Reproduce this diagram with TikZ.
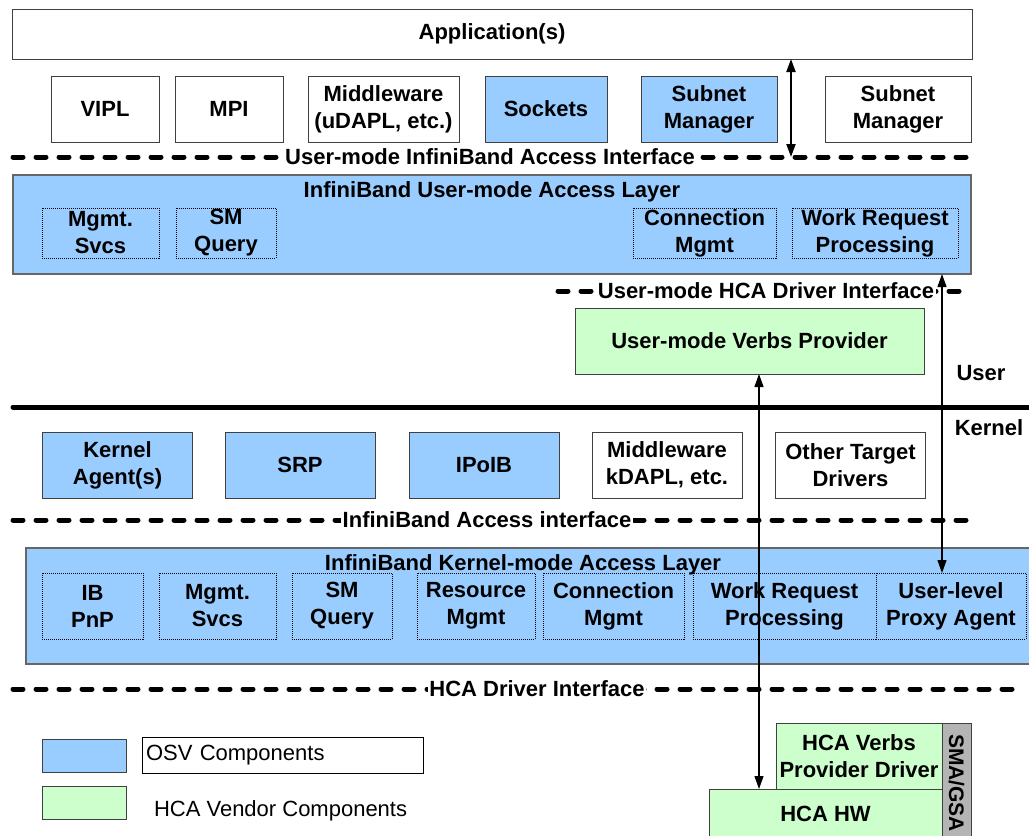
\documentclass[tikz,border=0pt]{standalone}
\usepackage{fontspec}
\setmainfont{Liberation Sans}
\usetikzlibrary{arrows.meta}
\definecolor{osvblue}{HTML}{99CCFF}
\definecolor{vendgreen}{HTML}{CCFFCC}
\definecolor{smagray}{HTML}{B4B4B4}
\definecolor{edgegray}{HTML}{404040}
\begin{document}
\begin{tikzpicture}[x=1pt,y=-1pt,
  txt/.style={font=\fontsize{22}{27}\selectfont\bfseries, align=center, inner sep=0pt, outer sep=0pt},
  blk/.style={txt, draw=edgegray, line width=1pt},
  osv/.style={blk, fill=osvblue},
  ven/.style={blk, fill=vendgreen},
  plainbox/.style={blk, fill=white},
  layer/.style={draw=edgegray!80, line width=1.2pt, fill=osvblue, inner sep=0pt, outer sep=0pt},
  sub/.style={txt, draw=black, line width=0.8pt, dash pattern=on 1pt off 1pt},
  iface/.style={line width=5pt, dash pattern=on 10pt off 13pt, line cap=round},
  ifacelbl/.style={txt, fill=white, inner xsep=1.5pt, inner ysep=1pt},
  link/.style={line width=1.2pt, {Triangle[length=13pt,width=9pt]}-{Triangle[length=13pt,width=9pt]}},
  keytxt/.style={font=\fontsize{22}{27}\selectfont, inner sep=0pt, outer sep=0pt},
]
\useasboundingbox (0,0) rectangle (1029,836);
\clip (0,0) rectangle (1029,836);

% ---------- user mode ----------
\node[plainbox, minimum width=960pt, minimum height=50pt] (app) at (492,34) {Application(s)};

\node[plainbox, minimum width=108pt, minimum height=66pt] (vipl) at (105,109) {VIPL};
\node[plainbox, minimum width=108pt, minimum height=66pt] (mpi) at (229,109) {MPI};
\node[plainbox, minimum width=151pt, minimum height=66pt] (umw) at (383.5,109) {Middleware\\(uDAPL, etc.)};
\node[osv, minimum width=122pt, minimum height=66pt] (sock) at (546,109) {Sockets};
\node[osv, minimum width=136pt, minimum height=66pt] (smosv) at (709,109) {Subnet\\Manager};
\node[plainbox, minimum width=146pt, minimum height=66pt] (smext) at (898,109) {Subnet\\Manager};

\coordinate (uiaiL) at (13,157);
\coordinate (uiaiR) at (971,157);
\draw[iface] (uiaiL) -- (uiaiR);
\node[ifacelbl] (uiai) at (490,157) {User-mode InfiniBand Access Interface};

\node[layer, minimum width=958pt, minimum height=99pt] (ual) at (492,224.5) {};
\node[txt] (ualtitle) at (492,192) {InfiniBand User-mode Access Layer};
\node[sub, minimum width=117pt, minimum height=50pt] (umgmt) at (100.5,233) {Mgmt.\\Svcs};
\node[sub, minimum width=100pt, minimum height=50pt] (usmq) at (226,233) {SM\\Query};
\node[sub, minimum width=143pt, minimum height=50pt] (ucm) at (704.5,233) {Connection\\Mgmt};
\node[sub, minimum width=166pt, minimum height=50pt] (uwr) at (875,233) {Work Request\\Processing};

\coordinate (uhcaL) at (558,291);
\coordinate (uhcaR) at (965,291);
\draw[iface] (uhcaL) -- (uhcaR);
\node[ifacelbl] (uhca) at (766,291) {User-mode HCA Driver Interface};

\node[ven, minimum width=349pt, minimum height=66pt] (uvp) at (749.5,341) {User-mode Verbs Provider};

\node[txt] (userlbl) at (981,373) {User};
\node[txt] (kernlbl) at (989,428) {Kernel};

% user / kernel boundary
\coordinate (ukL) at (13,407);
\coordinate (ukR) at (1040,407);
\draw[line width=5pt, line cap=round] (ukL) -- (ukR);

% ---------- kernel mode ----------
\node[osv, minimum width=150pt, minimum height=66pt] (kag) at (117.5,465) {Kernel\\Agent(s)};
\node[osv, minimum width=150pt, minimum height=66pt] (srp) at (300,465) {SRP};
\node[osv, minimum width=150pt, minimum height=66pt] (ipoib) at (484,465) {IPoIB};
\node[plainbox, minimum width=150pt, minimum height=66pt] (kmw) at (667,465) {Middleware\\kDAPL, etc.};
\node[plainbox, minimum width=150pt, minimum height=66pt] (otd) at (850.5,465) {Other Target\\Drivers};

\coordinate (kiaiL) at (13,520);
\coordinate (kiaiR) at (971,520);
\draw[iface] (kiaiL) -- (kiaiR);
\node[ifacelbl] (kiai) at (487,520) {InfiniBand Access interface};

\node[layer, minimum width=1012pt, minimum height=116pt] (kal) at (532,606) {};
\node[txt] (kaltitle) at (523,565) {InfiniBand Kernel-mode Access Layer};
\node[sub, minimum width=101pt, minimum height=66pt] (pnp) at (92.5,606) {IB\\PnP};
\node[sub, minimum width=117pt, minimum height=66pt] (kmgmt) at (217.5,606) {Mgmt.\\Svcs};
\node[sub, minimum width=100pt, minimum height=66pt] (ksmq) at (342,606) {SM\\Query};
\node[sub, minimum width=118pt, minimum height=66pt] (krm) at (476,606) {Resource\\Mgmt};
\node[sub, minimum width=141pt, minimum height=66pt] (kcm) at (613.5,606) {Connection\\Mgmt};
\node[sub, minimum width=183pt, minimum height=66pt] (kwr) at (784.5,606) {Work Request\\Processing};
\node[sub, minimum width=150pt, minimum height=66pt] (proxy) at (951,606) {User-level\\Proxy Agent};

\coordinate (hcaL) at (13,689);
\coordinate (hcaR) at (1020,689);
\draw[iface] (hcaL) -- (hcaR);
\node[ifacelbl] (hcaif) at (537,689) {HCA Driver Interface};

% ---------- hardware ----------
\node[ven, minimum width=166pt, minimum height=66pt] (hvd) at (859,756) {HCA Verbs\\Provider Driver};
\node[ven, minimum width=233pt, minimum height=50pt] (hw) at (825.5,814) {HCA HW};
\node[blk, fill=smagray, minimum width=120pt, minimum height=29pt, rotate=-90,
      font=\fontsize{21}{25}\selectfont\bfseries] (sma) at (956.5,783) {SMA/GSA};

% ---------- legend ----------
\node[draw=edgegray, line width=1pt, fill=osvblue, minimum width=84pt, minimum height=33pt, inner sep=0pt] (keyosv) at (84,755.5) {};
\node[keytxt, draw=black, line width=1pt, text width=273pt, inner xsep=4pt, minimum height=36pt, align=left] (keyosvtxt) at (282.5,755) {OSV Components};
\node[draw=edgegray, line width=1pt, fill=vendgreen, minimum width=84pt, minimum height=33pt, inner sep=0pt] (keyven) at (84,802.5) {};
\node[keytxt, anchor=west] (keyventxt) at (154,811) {HCA Vendor Components};

% ---------- connectors ----------
\coordinate (colC) at (791,0);
\coordinate (colA) at (759,0);
\coordinate (colB) at (942,0);
\draw[link, line width=2pt] (colC |- app.south) -- (colC |- uiaiL);
\draw[link] (colA |- uvp.south) -- (colA |- hw.north);
\draw[link] (colB |- ual.south) -- (colB |- proxy.north);
\end{tikzpicture}
\end{document}
